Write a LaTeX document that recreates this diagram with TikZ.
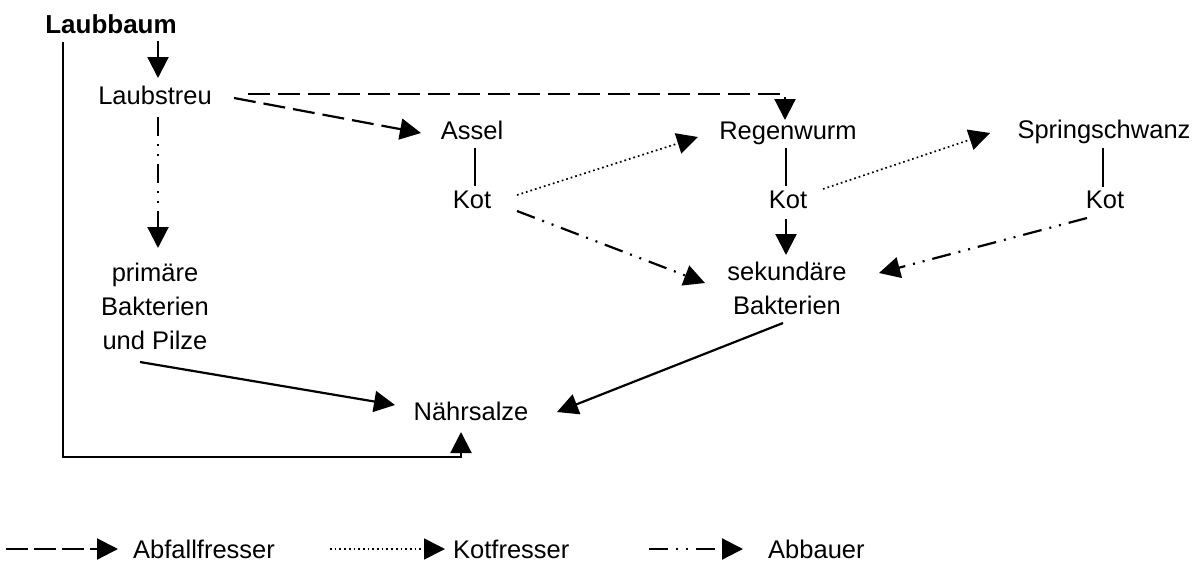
\documentclass[tikz,border=0pt]{standalone}
\usepackage{fontspec}
\setmainfont{Liberation Sans}
\usetikzlibrary{arrows.meta}
\begin{document}
\begin{tikzpicture}[x=1pt,y=-1pt,
  lbl/.style={font=\fontsize{25.5}{34}\selectfont, inner sep=0pt, anchor=base, align=center},
  leg/.style={font=\fontsize{25.5}{34}\selectfont, inner sep=0pt, anchor=base west},
  ln/.style={line width=2.2pt},
  tip/.style={-{Triangle[length=21pt,width=21pt]}},
  solidarrow/.style={ln, tip},
  abfall/.style={ln, tip, dash pattern=on 22pt off 8pt},
  kotfr/.style={line width=1.7pt, tip, dash pattern=on 1.7pt off 3pt},
  abbau/.style={ln, tip, dash pattern=on 19pt off 8pt on 2pt off 8pt on 2pt off 8pt}]
\useasboundingbox (0,0) rectangle (1199,563);

% nodes (base = baseline of last line)
\node[lbl, font=\fontsize{26}{34}\selectfont\bfseries] (baum) at (111,33) {Laubbaum};
\node[lbl] (streu) at (155,104) {Laubstreu};
\node[lbl] (assel) at (472,139) {Assel};
\node[lbl] (regen) at (788,139) {Regenwurm};
\node[lbl] (spring) at (1104,138) {Springschwanz};
\node[lbl] (kot1) at (472,208) {Kot};
\node[lbl] (kot2) at (788,208) {Kot};
\node[lbl] (kot3) at (1105,208) {Kot};
\node[lbl] (sek) at (787,314) {sekundäre\\Bakterien};
\node[lbl] (prim) at (155,349) {primäre\\Bakterien\\und Pilze};
\node[lbl] (naehr) at (471,420) {Nährsalze};

% connectors
\draw[solidarrow] ([shift={(47,8)}]baum.base) -- ([shift={(3,-26)}]streu.base);
\draw[solidarrow] ([shift={(-48,9)}]baum.base) |- ([shift={(-10,37)}]naehr.base) -- ([shift={(-10,12)}]naehr.base);
\draw[abfall] ([shift={(93,-10)}]streu.base) -| ([shift={(-3,-19)}]regen.base);
\draw[abfall] ([shift={(79,-6)}]streu.base) -- ([shift={(-51,-6)}]assel.base);
\draw[abbau] ([shift={(3,13)}]streu.base) -- ([shift={(3,-101)}]prim.base);
\draw[ln] ([shift={(3,9)}]assel.base) -- ([shift={(3,-22)}]kot1.base);
\draw[ln] ([shift={(-2,9)}]regen.base) -- ([shift={(-2,-22)}]kot2.base);
\draw[ln] ([shift={(-1,10)}]spring.base) -- ([shift={(-2,-21)}]kot3.base);
\draw[kotfr] ([shift={(45,-13)}]kot1.base) -- ([shift={(-90,-2)}]regen.base);
\draw[kotfr] ([shift={(35,-19)}]kot2.base) -- ([shift={(-114,-5)}]spring.base);
\draw[abbau] ([shift={(45,3)}]kot1.base) -- ([shift={(-82,-31)}]sek.base);
\draw[solidarrow] ([shift={(-2,11)}]kot2.base) -- ([shift={(-1,-59)}]sek.base);
\draw[abbau] ([shift={(-18,10)}]kot3.base) -- ([shift={(92,-41)}]sek.base);
\draw[solidarrow] ([shift={(-15,13)}]prim.base) -- ([shift={(-76,-15)}]naehr.base);
\draw[solidarrow] ([shift={(-4,9)}]sek.base) -- ([shift={(86,-8)}]naehr.base);

% legend
\node[leg] (labf) at (133,558) {Abfallfresser};
\node[leg] (lkot) at (453,558) {Kotfresser};
\node[leg] (labb) at (768,558) {Abbauer};
\coordinate (l1) at (6,549);
\coordinate (l2) at (330,549);
\coordinate (l3) at (649,549);
\draw[abfall, dash pattern=on 22pt off 6pt] (l1) -- ([shift={(-15,-9)}]labf.base west);
\draw[kotfr] (l2) -- ([shift={(-8,-9)}]lkot.base west);
\draw[abbau] (l3) -- ([shift={(-25,-9)}]labb.base west);
\end{tikzpicture}
\end{document}
